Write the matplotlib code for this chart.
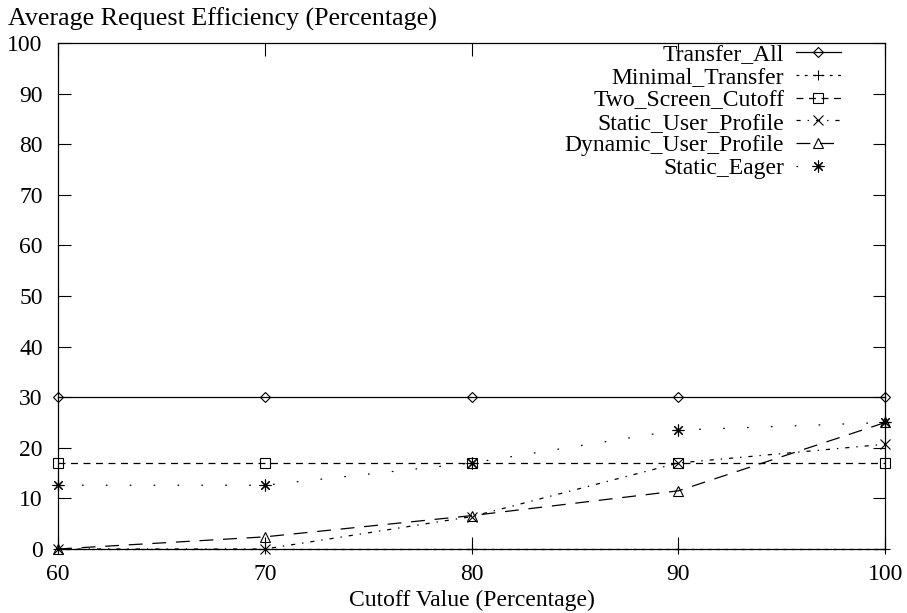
import matplotlib
matplotlib.use("Agg")
import matplotlib.pyplot as plt

# data
cutoff = [60, 70, 80, 90, 100]
transfer_all = [30, 30, 30, 30, 30]
minimal_transfer = [0, 0, 0, 0, 0]
two_screen_cutoff = [17, 17, 17, 17, 17]
static_user_profile = [0, 0, 6.4, 17, 20.7]
dynamic_user_profile = [0, 2.4, 6.6, 11.5, 25]
static_eager = [12.6, 12.6, 17, 23.5, 25]

plt.rcParams["font.family"] = ["Liberation Serif", "DejaVu Serif"]
plt.rcParams["lines.scale_dashes"] = False

fig = plt.figure(figsize=(9.07, 6.13), dpi=100)
ax = fig.add_axes([0.064, 0.1044, 0.912, 0.8256])

lw = 0.9
ms = 7.5
ax.plot(cutoff, transfer_all, color="black", lw=lw, marker="D", ms=5.5,
        mfc="none", mew=0.8, label="Transfer_All", clip_on=False)
ax.plot(cutoff, minimal_transfer, color="black", lw=lw, ls=(0, (2, 4)),
        marker="+", ms=ms, mew=0.8, label="Minimal_Transfer", clip_on=False)
ax.plot(cutoff, two_screen_cutoff, color="black", lw=lw, ls=(0, (5, 4)),
        marker="s", ms=ms, mfc="none", mew=0.8, label="Two_Screen_Cutoff", clip_on=False)
ax.plot(cutoff, static_user_profile, color="black", lw=lw, ls=(0, (3, 5, 1, 5)),
        marker="x", ms=ms, mew=0.8, label="Static_User_Profile", clip_on=False)
ax.plot(cutoff, dynamic_user_profile, color="black", lw=lw, ls=(0, (10, 7)),
        marker="^", ms=ms, mfc="none", mew=0.8, label="Dynamic_User_Profile", clip_on=False)
ax.plot(cutoff, static_eager, color="black", lw=lw, ls=(0, (1.2, 16)),
        marker=(8, 2, 0), ms=ms + 1, mew=0.8, label="Static_Eager", clip_on=False)

ax.set_xlim(60, 100)
ax.set_ylim(0, 100)
ax.set_xticks(cutoff)
ax.set_yticks(range(0, 101, 10))
ax.tick_params(direction="in", length=9, width=0.8, top=True, right=True,
               labelsize=17)
ax.tick_params(axis="y", pad=11)
ax.tick_params(axis="x", pad=11)
for s in ax.spines.values():
    s.set_linewidth(0.9)

ax.set_xlabel("Cutoff Value (Percentage)", fontsize=17, labelpad=3)
fig.text(0.009, 0.968, "Average Request Efficiency (Percentage)", fontsize=18.7,
         ha="left", va="center")

leg = ax.legend(loc="upper right", bbox_to_anchor=(0.972, 1.04), frameon=False,
                markerfirst=False, numpoints=1, handlelength=1.9,
                handletextpad=0.5, labelspacing=0.05, fontsize=17)

fig.savefig("out.png", dpi=100)
